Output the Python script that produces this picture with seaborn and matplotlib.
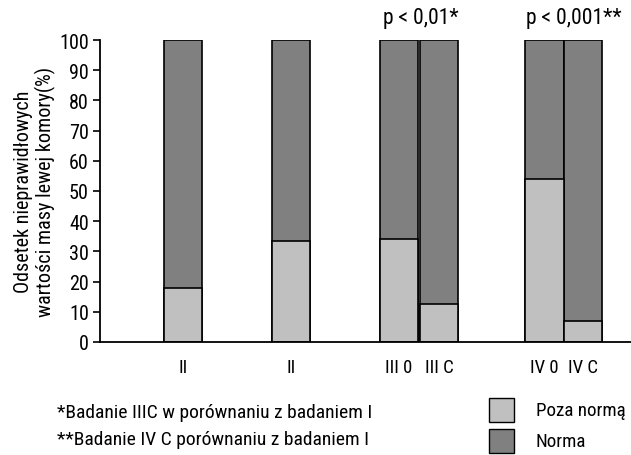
import matplotlib
matplotlib.use("Agg")
import matplotlib.pyplot as plt
import seaborn as sns
import pandas as pd

# Data
labels = ["II", "II", "III 0", "III C", "IV 0", "IV C"]
positions = [2.08, 4.78, 7.48, 8.48, 11.12, 12.08]
poza_norma = [18, 33.3, 34, 12.5, 54, 7]
total = [100, 100, 100, 100, 100, 100]
p_labels = ["p < 0,01*", "p < 0,001**"]
p_pos = [8.03, 11.85]

sns.set_style("white")
plt.rcParams["font.family"] = ["Roboto Condensed", "Liberation Sans Narrow",
                               "Liberation Sans", "DejaVu Sans"]
plt.rcParams["text.color"] = "black"
plt.rcParams["xtick.color"] = "black"
plt.rcParams["ytick.color"] = "black"
plt.rcParams["axes.labelcolor"] = "black"

df = pd.DataFrame({"pos": positions, "total": total, "poza": poza_norma})

fig = plt.figure(figsize=(6.31, 4.56), dpi=100)
ax = fig.add_axes([0.1585, 0.248, 0.8415, 0.662])

light = "#c0c0c0"
dark = "#808080"

#Norma (full bars) then Poza normą on top
sns.barplot(data=df, x="pos", y="total", native_scale=True, width=1,
            color=dark, edgecolor="black", linewidth=1.2, saturation=1,
            errorbar=None, ax=ax)
sns.barplot(data=df, x="pos", y="poza", native_scale=True, width=1,
            color=light, edgecolor="black", linewidth=1.2, saturation=1,
            errorbar=None, ax=ax)

ax.set_xlim(0, 13.28)
ax.set_ylim(0, 100)
ax.set_yticks(range(0, 101, 10))
ax.set_xticks(positions)
ax.set_xticklabels(labels)
ax.tick_params(axis="y", which="both", left=True, length=5, width=1.2,
               labelsize=14.5, pad=3)
ax.tick_params(axis="x", bottom=False, labelsize=13.5, pad=8)
ax.set_xlabel("")
ax.set_ylabel("Odsetek nieprawidłowych\nwartości masy lewej komory(%)",
              fontsize=14.5, labelpad=2, linespacing=1.15)

sns.despine(ax=ax)
for s in ["left", "bottom"]:
    ax.spines[s].set_color("black")
    ax.spines[s].set_linewidth(1.3)

for txt, x in zip(p_labels, p_pos):
    ax.text(x, 104, txt, ha="center", va="bottom", fontsize=15.5)

# Footnotes
fig.text(0.09, 0.094, "*Badanie IIIC w porównaniu z badaniem I", fontsize=14, va="center")
fig.text(0.09, 0.035, "**Badanie IV C porównaniu z badaniem I", fontsize=14, va="center")

# Legend drawn by hand
for col, txt, y in [(light, "Poza normą", 0.099), (dark, "Norma", 0.03)]:
    fig.patches.append(plt.Rectangle((0.775, y - 0.026), 0.039, 0.053,
                                     transform=fig.transFigure, facecolor=col,
                                     edgecolor="black", linewidth=1))
    fig.text(0.849, y, txt, fontsize=13.7, va="center")

fig.savefig("out.png", dpi=100)
